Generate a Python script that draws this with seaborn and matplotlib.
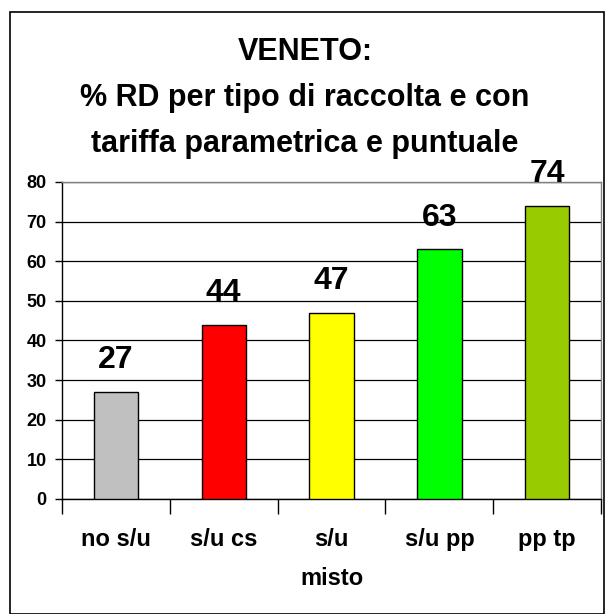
import matplotlib
matplotlib.use("Agg")
import matplotlib.pyplot as plt
import matplotlib.patches as patches
import seaborn as sns
import pandas as pd
import numpy as np

# data
categories = ["no s/u", "s/u cs", "s/u\nmisto", "s/u pp", "pp tp"]
values = [27, 44, 47, 63, 74]
bar_colors = ["#C0C0C0", "#FF0000", "#FFFF00", "#00FF00", "#99CC00"]
title = "VENETO:\n% RD per tipo di raccolta e con\ntariffa parametrica e puntuale"

df = pd.DataFrame({"cat": categories, "val": values})

sns.set_style("white")
plt.rcParams["font.family"] = ["Liberation Sans", "DejaVu Sans"]
plt.rcParams["font.weight"] = "bold"
plt.rcParams["text.color"] = "black"
plt.rcParams["xtick.color"] = "black"
plt.rcParams["ytick.color"] = "black"

fig = plt.figure(figsize=(6.06, 6.14), dpi=100)
ax = fig.add_axes([0.1023, 0.1873, 0.8897, 0.5163])

sns.barplot(data=df, x="cat", y="val", hue="cat", palette=bar_colors,
            saturation=1, legend=False, width=0.41, edgecolor="black",
            linewidth=1, ax=ax, zorder=3)

ax.set_ylim(0, 80)
ax.set_xlim(-0.5, 4.5)
ax.set_yticks(np.arange(0, 81, 10))
ax.yaxis.grid(True, color="black", linewidth=0.9, zorder=0)
ax.set_axisbelow(True)
ax.set_xlabel("")
ax.set_ylabel("")

# category labels on minor ticks, boundary marks on major ticks
ax.set_xticks(np.arange(-0.5, 5, 1))
ax.set_xticklabels([])
ax.set_xticks(range(len(categories)), minor=True)
ax.set_xticklabels(categories, minor=True, fontsize=17, fontweight="bold",
                   linespacing=1.9)
ax.tick_params(axis="x", which="major", direction="out", length=11, width=1,
               color="black", bottom=True)
ax.tick_params(axis="x", which="minor", length=0, pad=21)
ax.tick_params(axis="y", direction="out", length=5, width=1, color="black",
               left=True, labelsize=13, pad=6)
for lab in ax.get_yticklabels():
    lab.set_fontweight("bold")

for s in ["left", "bottom"]:
    ax.spines[s].set_color("black")
    ax.spines[s].set_linewidth(1)
for s in ["top", "right"]:
    ax.spines[s].set_color("#808080")
    ax.spines[s].set_linewidth(1)

for i, v in enumerate(values):
    ax.annotate(str(v), (i, v), xytext=(0, 12), textcoords="offset points",
                ha="center", va="bottom", fontsize=23, fontweight="bold")

fig.text(0.503, 0.94, title, ha="center", va="top", fontsize=22,
         fontweight="bold", linespacing=1.7)

fig.patches.append(patches.Rectangle((0.0165, 0.0), 0.98, 0.98,
                                     transform=fig.transFigure, fill=False,
                                     edgecolor="black", linewidth=1.2))

fig.savefig("out.png", dpi=100)
